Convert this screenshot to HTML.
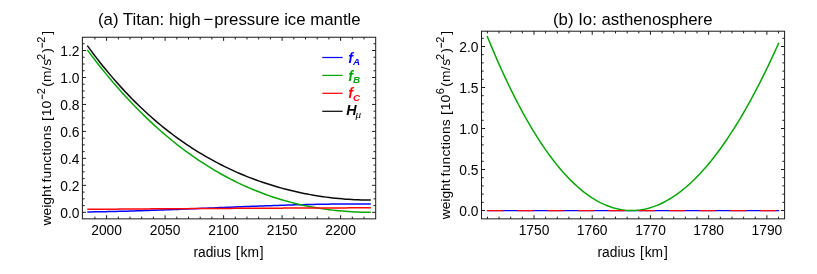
<!DOCTYPE html>
<html><head><meta charset="utf-8"><title>weight functions</title>
<style>
html,body{margin:0;padding:0;background:#fff;}
body{width:817px;height:274px;overflow:hidden;font-family:"Liberation Sans", sans-serif;}
svg{display:block;will-change:transform;}
text{font-family:"Liberation Sans", sans-serif;fill:#000;}
.t{font-size:13.8px;}
.ti{font-size:16.8px;}
.s{font-size:11px;}
.lg{font-size:14.3px;font-weight:bold;font-style:italic;}
.lgs{font-size:9.8px;font-weight:bold;font-style:italic;}
</style></head><body>
<svg width="817" height="274" viewBox="0 0 817 274">
<rect width="817" height="274" fill="#fff"/>
<path d="M87.30 211.96L90.89 211.91L94.48 211.86L98.07 211.80L101.65 211.74L105.24 211.67L108.83 211.59L112.42 211.51L116.01 211.43L119.60 211.34L123.19 211.24L126.77 211.14L130.36 211.04L133.95 210.93L137.54 210.82L141.13 210.71L144.72 210.59L148.31 210.47L151.89 210.34L155.48 210.21L159.07 210.08L162.66 209.95L166.25 209.81L169.84 209.68L173.43 209.54L177.02 209.39L180.60 209.25L184.19 209.11L187.78 208.96L191.37 208.81L194.96 208.66L198.55 208.51L202.14 208.36L205.72 208.21L209.31 208.06L212.90 207.91L216.49 207.76L220.08 207.61L223.67 207.46L227.26 207.31L230.84 207.16L234.43 207.01L238.02 206.87L241.61 206.72L245.20 206.58L248.79 206.44L252.38 206.30L255.96 206.16L259.55 206.02L263.14 205.89L266.73 205.76L270.32 205.63L273.91 205.51L277.50 205.39L281.08 205.27L284.67 205.16L288.26 205.04L291.85 204.94L295.44 204.84L299.03 204.74L302.62 204.64L306.21 204.55L309.79 204.47L313.38 204.39L316.97 204.32L320.56 204.25L324.15 204.19L327.74 204.13L331.33 204.08L334.91 204.03L338.50 203.99L342.09 203.96L345.68 203.93L349.27 203.91L352.86 203.90L356.45 203.90L360.03 203.90L363.62 203.91L367.21 203.93L370.80 203.95" stroke="#0404ff" stroke-width="1.5" fill="none"/>
<path d="M87.30 49.87L90.49 54.13L93.67 58.31L96.86 62.43L100.04 66.48L103.23 70.45L106.41 74.36L109.60 78.20L112.78 81.97L115.97 85.68L119.15 89.32L122.34 92.89L125.52 96.39L128.71 99.84L131.90 103.21L135.08 106.53L138.27 109.78L141.45 112.96L144.64 116.09L147.82 119.16L151.01 122.16L154.19 125.10L157.38 127.99L160.56 130.81L163.75 133.58L166.93 136.29L170.12 138.94L173.31 141.54L176.49 144.08L179.68 146.56L182.86 148.99L186.05 151.36L189.23 153.68L192.42 155.95L195.60 158.16L198.79 160.32L201.97 162.43L205.16 164.49L208.34 166.49L211.53 168.45L214.72 170.35L217.90 172.21L221.09 174.02L224.27 175.78L227.46 177.49L230.64 179.15L233.83 180.77L237.01 182.34L240.20 183.86L243.38 185.34L246.57 186.78L249.76 188.16L252.94 189.51L256.13 190.81L259.31 192.07L262.50 193.29L265.68 194.46L268.87 195.59L272.05 196.68L275.24 197.73L278.42 198.74L281.61 199.71L284.79 200.64L287.98 201.53L291.17 202.39L294.35 203.20L297.54 203.98L300.72 204.71L303.91 205.42L307.09 206.08L310.28 206.71L313.46 207.30L316.65 207.86L319.83 208.38L323.02 208.87L326.20 209.32L329.39 209.74L332.58 210.13L335.76 210.49L338.95 210.81L342.13 211.09L345.32 211.35L348.50 211.58L351.69 211.77L354.87 211.93L358.06 212.07L361.24 212.17L364.43 212.24L367.61 212.29L370.80 212.30" stroke="#08a608" stroke-width="1.5" fill="none"/>
<path d="M87.30 209.36L90.89 209.33L94.48 209.30L98.07 209.27L101.65 209.25L105.24 209.22L108.83 209.19L112.42 209.16L116.01 209.13L119.60 209.11L123.19 209.08L126.77 209.05L130.36 209.03L133.95 209.00L137.54 208.97L141.13 208.95L144.72 208.92L148.31 208.90L151.89 208.87L155.48 208.85L159.07 208.82L162.66 208.80L166.25 208.77L169.84 208.75L173.43 208.73L177.02 208.70L180.60 208.68L184.19 208.66L187.78 208.63L191.37 208.61L194.96 208.59L198.55 208.57L202.14 208.55L205.72 208.53L209.31 208.50L212.90 208.48L216.49 208.46L220.08 208.44L223.67 208.42L227.26 208.40L230.84 208.38L234.43 208.36L238.02 208.34L241.61 208.32L245.20 208.31L248.79 208.29L252.38 208.27L255.96 208.25L259.55 208.23L263.14 208.22L266.73 208.20L270.32 208.18L273.91 208.16L277.50 208.15L281.08 208.13L284.67 208.12L288.26 208.10L291.85 208.08L295.44 208.07L299.03 208.05L302.62 208.04L306.21 208.02L309.79 208.01L313.38 208.00L316.97 207.98L320.56 207.97L324.15 207.95L327.74 207.94L331.33 207.93L334.91 207.92L338.50 207.90L342.09 207.89L345.68 207.88L349.27 207.87L352.86 207.86L356.45 207.85L360.03 207.83L363.62 207.82L367.21 207.81L370.80 207.80" stroke="#ff0808" stroke-width="1.5" fill="none"/>
<path d="M87.30 45.59L90.49 49.93L93.67 54.19L96.86 58.35L100.04 62.43L103.23 66.42L106.41 70.32L109.60 74.14L112.78 77.88L115.97 81.54L119.15 85.12L122.34 88.62L125.52 92.04L128.71 95.39L131.90 98.66L135.08 101.86L138.27 104.99L141.45 108.05L144.64 111.04L147.82 113.96L151.01 116.81L154.19 119.60L157.38 122.32L160.56 124.98L163.75 127.57L166.93 130.11L170.12 132.58L173.31 135.00L176.49 137.36L179.68 139.66L182.86 141.90L186.05 144.09L189.23 146.22L192.42 148.30L195.60 150.33L198.79 152.31L201.97 154.23L205.16 156.11L208.34 157.94L211.53 159.72L214.72 161.45L217.90 163.13L221.09 164.77L224.27 166.37L227.46 167.92L230.64 169.42L233.83 170.89L237.01 172.31L240.20 173.69L243.38 175.02L246.57 176.32L249.76 177.58L252.94 178.80L256.13 179.98L259.31 181.13L262.50 182.23L265.68 183.30L268.87 184.33L272.05 185.33L275.24 186.29L278.42 187.22L281.61 188.11L284.79 188.96L287.98 189.79L291.17 190.58L294.35 191.33L297.54 192.06L300.72 192.75L303.91 193.40L307.09 194.03L310.28 194.63L313.46 195.19L316.65 195.72L319.83 196.22L323.02 196.69L326.20 197.13L329.39 197.54L332.58 197.92L335.76 198.27L338.95 198.58L342.13 198.87L345.32 199.13L348.50 199.36L351.69 199.55L354.87 199.72L358.06 199.86L361.24 199.96L364.43 200.04L367.61 200.08L370.80 200.10" stroke="#0a0a0a" stroke-width="1.5" fill="none"/>
<path d="M106.60 218.85v-3.6M106.60 37.25v3.6M165.10 218.85v-3.6M165.10 37.25v3.6M223.60 218.85v-3.6M223.60 37.25v3.6M282.10 218.85v-3.6M282.10 37.25v3.6M340.60 218.85v-3.6M340.60 37.25v3.6M94.90 218.85v-2.2M94.90 37.25v2.2M118.30 218.85v-2.2M118.30 37.25v2.2M130.00 218.85v-2.2M130.00 37.25v2.2M141.70 218.85v-2.2M141.70 37.25v2.2M153.40 218.85v-2.2M153.40 37.25v2.2M176.80 218.85v-2.2M176.80 37.25v2.2M188.50 218.85v-2.2M188.50 37.25v2.2M200.20 218.85v-2.2M200.20 37.25v2.2M211.90 218.85v-2.2M211.90 37.25v2.2M235.30 218.85v-2.2M235.30 37.25v2.2M247.00 218.85v-2.2M247.00 37.25v2.2M258.70 218.85v-2.2M258.70 37.25v2.2M270.40 218.85v-2.2M270.40 37.25v2.2M293.80 218.85v-2.2M293.80 37.25v2.2M305.50 218.85v-2.2M305.50 37.25v2.2M317.20 218.85v-2.2M317.20 37.25v2.2M328.90 218.85v-2.2M328.90 37.25v2.2M352.30 218.85v-2.2M352.30 37.25v2.2M364.00 218.85v-2.2M364.00 37.25v2.2M82.4 212.30h3.6M375.7 212.30h-3.6M82.4 185.33h3.6M375.7 185.33h-3.6M82.4 158.37h3.6M375.7 158.37h-3.6M82.4 131.40h3.6M375.7 131.40h-3.6M82.4 104.44h3.6M375.7 104.44h-3.6M82.4 77.47h3.6M375.7 77.47h-3.6M82.4 50.50h3.6M375.7 50.50h-3.6M82.4 205.56h2.2M375.7 205.56h-2.2M82.4 198.82h2.2M375.7 198.82h-2.2M82.4 192.08h2.2M375.7 192.08h-2.2M82.4 178.59h2.2M375.7 178.59h-2.2M82.4 171.85h2.2M375.7 171.85h-2.2M82.4 165.11h2.2M375.7 165.11h-2.2M82.4 151.63h2.2M375.7 151.63h-2.2M82.4 144.88h2.2M375.7 144.88h-2.2M82.4 138.14h2.2M375.7 138.14h-2.2M82.4 124.66h2.2M375.7 124.66h-2.2M82.4 117.92h2.2M375.7 117.92h-2.2M82.4 111.18h2.2M375.7 111.18h-2.2M82.4 97.69h2.2M375.7 97.69h-2.2M82.4 90.95h2.2M375.7 90.95h-2.2M82.4 84.21h2.2M375.7 84.21h-2.2M82.4 70.73h2.2M375.7 70.73h-2.2M82.4 63.99h2.2M375.7 63.99h-2.2M82.4 57.25h2.2M375.7 57.25h-2.2M82.4 43.76h2.2M375.7 43.76h-2.2" stroke="#1a1a1a" stroke-width="1" fill="none"/>
<rect x="82.4" y="37.25" width="293.29999999999995" height="181.6" fill="none" stroke="#1a1a1a" stroke-width="1"/>
<path d="M486.9 210.6H779.3" stroke="#0404ff" stroke-width="1.4" fill="none"/>
<path d="M487.10 35.92L489.20 41.06L491.30 46.13L493.40 51.12L495.49 56.02L497.59 60.85L499.69 65.59L501.79 70.26L503.89 74.84L505.99 79.35L508.09 83.78L510.18 88.13L512.28 92.40L514.38 96.59L516.48 100.70L518.58 104.74L520.68 108.69L522.78 112.57L524.87 116.37L526.97 120.09L529.07 123.74L531.17 127.31L533.27 130.80L535.37 134.21L537.47 137.55L539.56 140.81L541.66 143.99L543.76 147.10L545.86 150.13L547.96 153.09L550.06 155.96L552.16 158.77L554.25 161.49L556.35 164.15L558.45 166.72L560.55 169.22L562.65 171.65L564.75 174.00L566.85 176.28L568.94 178.48L571.04 180.61L573.14 182.66L575.24 184.64L577.34 186.54L579.44 188.37L581.54 190.13L583.63 191.81L585.73 193.42L587.83 194.96L589.93 196.42L592.03 197.81L594.13 199.13L596.23 200.37L598.32 201.54L600.42 202.64L602.52 203.67L604.62 204.62L606.72 205.50L608.82 206.31L610.92 207.05L613.01 207.72L615.11 208.31L617.21 208.83L619.31 209.29L621.41 209.67L623.51 209.97L625.61 210.21L627.70 210.38L629.80 210.47L631.90 210.50L634.00 210.45L636.10 210.34L638.20 210.15L640.29 209.90L642.39 209.57L644.49 209.17L646.59 208.71L648.69 208.17L650.79 207.56L652.89 206.89L654.98 206.14L657.08 205.33L659.18 204.45L661.28 203.49L663.38 202.47L665.48 201.38L667.58 200.22L669.67 198.99L671.77 197.70L673.87 196.33L675.97 194.90L678.07 193.40L680.17 191.83L682.27 190.19L684.36 188.48L686.46 186.71L688.56 184.87L690.66 182.96L692.76 180.98L694.86 178.94L696.96 176.83L699.05 174.65L701.15 172.40L703.25 170.09L705.35 167.71L707.45 165.26L709.55 162.75L711.65 160.17L713.74 157.52L715.84 154.80L717.94 152.02L720.04 149.18L722.14 146.26L724.24 143.28L726.34 140.24L728.43 137.13L730.53 133.95L732.63 130.71L734.73 127.40L736.83 124.02L738.93 120.58L741.03 117.07L743.12 113.50L745.22 109.86L747.32 106.16L749.42 102.39L751.52 98.56L753.62 94.66L755.72 90.70L757.81 86.67L759.91 82.57L762.01 78.42L764.11 74.19L766.21 69.91L768.31 65.55L770.41 61.14L772.50 56.65L774.60 52.11L776.70 47.50L778.80 42.82" stroke="#08a608" stroke-width="1.5" fill="none"/>
<path d="M486.9 210.6H779.3" stroke="#ff0808" stroke-width="1.4" fill="none" stroke-dasharray="16.2 14.17"/>
<path d="M534.00 218.85v-3.6M534.00 31.2v3.6M592.23 218.85v-3.6M592.23 31.2v3.6M650.45 218.85v-3.6M650.45 31.2v3.6M708.67 218.85v-3.6M708.67 31.2v3.6M766.90 218.85v-3.6M766.90 31.2v3.6M487.42 218.85v-2.2M487.42 31.2v2.2M499.06 218.85v-2.2M499.06 31.2v2.2M510.71 218.85v-2.2M510.71 31.2v2.2M522.36 218.85v-2.2M522.36 31.2v2.2M545.64 218.85v-2.2M545.64 31.2v2.2M557.29 218.85v-2.2M557.29 31.2v2.2M568.93 218.85v-2.2M568.93 31.2v2.2M580.58 218.85v-2.2M580.58 31.2v2.2M603.87 218.85v-2.2M603.87 31.2v2.2M615.51 218.85v-2.2M615.51 31.2v2.2M627.16 218.85v-2.2M627.16 31.2v2.2M638.80 218.85v-2.2M638.80 31.2v2.2M662.10 218.85v-2.2M662.10 31.2v2.2M673.74 218.85v-2.2M673.74 31.2v2.2M685.38 218.85v-2.2M685.38 31.2v2.2M697.03 218.85v-2.2M697.03 31.2v2.2M720.32 218.85v-2.2M720.32 31.2v2.2M731.97 218.85v-2.2M731.97 31.2v2.2M743.61 218.85v-2.2M743.61 31.2v2.2M755.25 218.85v-2.2M755.25 31.2v2.2M778.54 218.85v-2.2M778.54 31.2v2.2M481.5 210.50h3.6M784.6 210.50h-3.6M481.5 169.50h3.6M784.6 169.50h-3.6M481.5 128.50h3.6M784.6 128.50h-3.6M481.5 87.50h3.6M784.6 87.50h-3.6M481.5 46.50h3.6M784.6 46.50h-3.6M481.5 202.30h2.2M784.6 202.30h-2.2M481.5 194.10h2.2M784.6 194.10h-2.2M481.5 185.90h2.2M784.6 185.90h-2.2M481.5 177.70h2.2M784.6 177.70h-2.2M481.5 161.30h2.2M784.6 161.30h-2.2M481.5 153.10h2.2M784.6 153.10h-2.2M481.5 144.90h2.2M784.6 144.90h-2.2M481.5 136.70h2.2M784.6 136.70h-2.2M481.5 120.30h2.2M784.6 120.30h-2.2M481.5 112.10h2.2M784.6 112.10h-2.2M481.5 103.90h2.2M784.6 103.90h-2.2M481.5 95.70h2.2M784.6 95.70h-2.2M481.5 79.30h2.2M784.6 79.30h-2.2M481.5 71.10h2.2M784.6 71.10h-2.2M481.5 62.90h2.2M784.6 62.90h-2.2M481.5 54.70h2.2M784.6 54.70h-2.2M481.5 38.30h2.2M784.6 38.30h-2.2" stroke="#1a1a1a" stroke-width="1" fill="none"/>
<rect x="481.5" y="31.2" width="303.1" height="187.65" fill="none" stroke="#1a1a1a" stroke-width="1"/>
<text class="t" x="106.6" y="235" text-anchor="middle">2000</text>
<text class="t" x="165.1" y="235" text-anchor="middle">2050</text>
<text class="t" x="223.6" y="235" text-anchor="middle">2100</text>
<text class="t" x="282.1" y="235" text-anchor="middle">2150</text>
<text class="t" x="340.6" y="235" text-anchor="middle">2200</text>
<text class="t" x="79.5" y="217.6" text-anchor="end">0.0</text>
<text class="t" x="79.5" y="190.6" text-anchor="end">0.2</text>
<text class="t" x="79.5" y="163.7" text-anchor="end">0.4</text>
<text class="t" x="79.5" y="136.7" text-anchor="end">0.6</text>
<text class="t" x="79.5" y="109.7" text-anchor="end">0.8</text>
<text class="t" x="79.5" y="82.8" text-anchor="end">1.0</text>
<text class="t" x="79.5" y="55.8" text-anchor="end">1.2</text>
<text class="t" x="534.0" y="235" text-anchor="middle">1750</text>
<text class="t" x="592.2" y="235" text-anchor="middle">1760</text>
<text class="t" x="650.5" y="235" text-anchor="middle">1770</text>
<text class="t" x="708.7" y="235" text-anchor="middle">1780</text>
<text class="t" x="766.9" y="235" text-anchor="middle">1790</text>
<text class="t" x="478.5" y="215.8" text-anchor="end">0.0</text>
<text class="t" x="478.5" y="174.8" text-anchor="end">0.5</text>
<text class="t" x="478.5" y="133.8" text-anchor="end">1.0</text>
<text class="t" x="478.5" y="92.8" text-anchor="end">1.5</text>
<text class="t" x="478.5" y="51.8" text-anchor="end">2.0</text>
<text class="ti" x="98" y="24.8">(a) Titan: high</text>
<text class="ti" x="203.4" y="24.8">−</text>
<text class="ti" x="214.2" y="24.8">pressure ice mantle</text>
<text class="ti" x="553" y="24.7">(b) Io: asthenosphere</text>
<text class="t" x="193.4" y="257.2">radius <tspan dx="1.0">[</tspan><tspan dx="0.9">km</tspan><tspan dx="0.9">]</tspan></text>
<text class="t" x="597.5" y="257.2">radius <tspan dx="1.0">[</tspan><tspan dx="0.9">km</tspan><tspan dx="0.9">]</tspan></text>
<g transform="translate(50.5 0) rotate(-90) scale(1 0.96)">
<text class="t" x="-225.4" y="0">weight <tspan dx="-0.9" style="letter-spacing:0.25px">functions</tspan></text>
<text class="t" x="-121.0" y="0">[</text>
<text class="t" x="-116.3" y="0">10</text>
<rect x="-99.2" y="-9.2" width="4.6" height="1.15" fill="#111"/>
<text class="s" x="-94.3" y="-5.95">2</text>
<text class="t" x="-86.8" y="0">(</text>
<text class="t" x="-82.1" y="0">m</text>
<text class="t" x="-70.3" y="0">/</text>
<text class="t" x="-65.75" y="0">s</text>
<text class="s" x="-59.9" y="-5.95">2</text>
<text class="t" x="-52.7" y="0">)</text>
<rect x="-47.7" y="-9.2" width="4.8" height="1.15" fill="#111"/>
<text class="s" x="-42.8" y="-5.95">2</text>
<text class="t" x="-34.8" y="0">]</text>
</g>
<g transform="translate(449.6 0) rotate(-90) scale(1 0.96)">
<text class="t" x="-219.3" y="0">weight <tspan dx="-0.9" style="letter-spacing:0.25px">functions</tspan></text>
<text class="t" x="-114.9" y="0">[</text>
<text class="t" x="-110.2" y="0">10</text>
<text class="s" x="-94.3" y="-5.95">6</text>
<text class="t" x="-86.8" y="0">(</text>
<text class="t" x="-82.1" y="0">m</text>
<text class="t" x="-70.3" y="0">/</text>
<text class="t" x="-65.75" y="0">s</text>
<text class="s" x="-59.9" y="-5.95">2</text>
<text class="t" x="-52.7" y="0">)</text>
<rect x="-47.7" y="-9.2" width="4.8" height="1.15" fill="#111"/>
<text class="s" x="-42.8" y="-5.95">2</text>
<text class="t" x="-34.8" y="0">]</text>
</g>
<path d="M322.3 57.5H342.6" stroke="#0404ff" stroke-width="1.25"/>
<text class="lg" x="348.2" y="62.6" style="fill:#0404ff">f</text>
<text class="lgs" x="353" y="64.7" style="fill:#0404ff">A</text>
<path d="M322.3 75.4H342.6" stroke="#08a608" stroke-width="1.25"/>
<text class="lg" x="348.2" y="80.5" style="fill:#08a608">f</text>
<text class="lgs" x="353" y="82.6" style="fill:#08a608">B</text>
<path d="M322.3 93.3H342.6" stroke="#ff0808" stroke-width="1.25"/>
<text class="lg" x="348.2" y="98.4" style="fill:#ff0808">f</text>
<text class="lgs" x="353" y="100.5" style="fill:#ff0808">C</text>
<path d="M322.3 111.3H342.6" stroke="#0a0a0a" stroke-width="1.25"/>
<text class="lg" x="346.3" y="115.4">H</text>
<text x="355.6" y="117.7" style="font-family:'Liberation Serif',serif;font-style:italic;font-size:11.2px">μ</text>
</svg></body></html>
